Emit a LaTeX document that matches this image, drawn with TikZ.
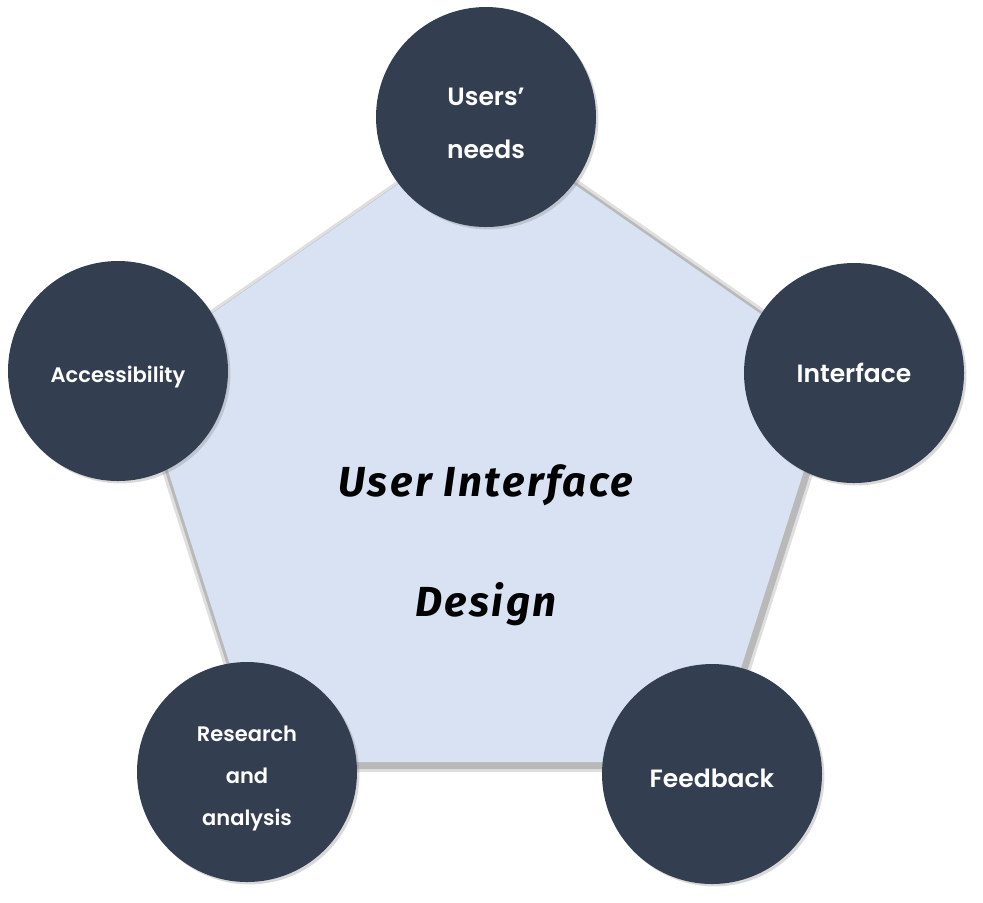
\documentclass[tikz,border=0pt]{standalone}
\usepackage{fontspec}
\newfontfamily\bubblefont{Poppins SemiBold}
\newfontfamily\titlefont{Fira Sans}[LetterSpace=6]
\usetikzlibrary{shadows}
\definecolor{slate}{HTML}{333F50}
\definecolor{paleblue}{HTML}{D9E2F3}

\begin{document}
\begin{tikzpicture}[x=0.5pt, y=-0.5pt,
    bubble/.style={circle, fill=slate, minimum size=110pt, inner sep=0pt,
        drop shadow={shadow xshift=1.2pt, shadow yshift=-1.2pt, opacity=0.3}},
    tag/.style={text=white, align=center, inner sep=0pt, font=\bubblefont\fontsize{12.5}{26.5}\selectfont},
    small/.style={font=\bubblefont\fontsize{10.5}{21}\selectfont},
    rim/.style={line join=round, transform canvas={xshift=1pt, yshift=-1.5pt}}]
    \useasboundingbox (0,0) rectangle (983,902);
    % pentagon
    \coordinate (T) at (486,123);
    \coordinate (R) at (837,367);
    \coordinate (BR) at (711,762);
    \coordinate (BL) at (261,762);
    \coordinate (L) at (135,367);
    \draw[rim, gray!25, line width=7pt] (T) -- (R) -- (BR) -- (BL) -- (L) -- cycle;
    \draw[rim, gray!55, line width=4pt] (T) -- (R) -- (BR) -- (BL) -- (L) -- cycle;
    \fill[paleblue] (T) -- (R) -- (BR) -- (BL) -- (L) -- cycle;
    \node[font=\titlefont\bfseries\itshape\fontsize{21}{60}\selectfont, align=center] (uid) at (486,545) {User Interface\\Design};
    % circles
    \node[bubble, label={[tag, yshift=-3pt]center:{Users’\\needs}}] (needs) at (486,117) {};
    \node[bubble, label={[tag]center:Interface}] (iface) at (854,373) {};
    \node[bubble, label={[tag, small, yshift=-3pt]center:Accessibility}] (access) at (118,371) {};
    \node[bubble, label={[tag, small, yshift=-3pt]center:{Research\\and\\analysis}}] (research) at (247,772) {};
    \node[bubble, label={[tag, yshift=-2pt]center:Feedback}] (feedback) at (712,774) {};
\end{tikzpicture}
\end{document}
